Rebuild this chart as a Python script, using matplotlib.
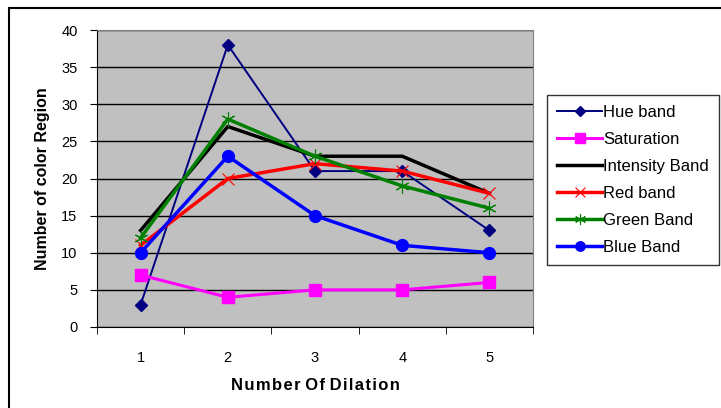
import matplotlib.pyplot as plt
from matplotlib.patches import Rectangle

dilation = [1, 2, 3, 4, 5]
hue = [3, 38, 21, 21, 13]
saturation = [7, 4, 5, 5, 6]
intensity = [13, 27, 23, 23, 18]
red = [11, 20, 22, 21, 18]
green = [12, 28, 23, 19, 16]
blue = [10, 23, 15, 11, 10]

plt.rcParams['font.family'] = ['Liberation Sans', 'DejaVu Sans']

fig = plt.figure(figsize=(7.21, 4.08), dpi=100)
ax = fig.add_axes([97 / 721, 81 / 408, 436 / 721, 297 / 408])
ax.set_facecolor('#C0C0C0')

# outer frame of the chart (runs off right and bottom)
fig.patches.append(Rectangle((9 / 721, -0.1), 1.0, (400 / 408) + 0.1, transform=fig.transFigure,
                             fill=False, edgecolor='black', linewidth=1.5))

ax.plot(dilation, hue, color='#000080', lw=1.4, marker='D', ms=6.5, label='Hue band', zorder=3)
ax.plot(dilation, saturation, color='#FF00FF', lw=2.2, marker='s', ms=9, label='Saturation', zorder=3)
ax.plot(dilation, intensity, color='black', lw=2.5, label='Intensity Band', zorder=3)
ax.plot(dilation, red, color='#FF0000', lw=2.5, marker='x', ms=9, mew=0.8, label='Red band', zorder=3)
ax.plot(dilation, green, color='#008000', lw=2.5, marker=(6, 2, 0), ms=10, mew=0.8,
        label='Green Band', zorder=3)
ax.plot(dilation, blue, color='#0000FF', lw=2.5, marker='o', ms=8.5, label='Blue Band', zorder=3)

ax.set_xlim(0.5, 5.5)
ax.set_ylim(0, 40)
ax.set_yticks(range(0, 41, 5))
ax.yaxis.grid(True, color='black', lw=1)
ax.set_axisbelow(True)
ax.tick_params(axis='y', length=5, direction='out', labelsize=10.5, pad=9)
ax.set_xticks(dilation)
ax.set_xticks([0.5, 1.5, 2.5, 3.5, 4.5, 5.5], minor=True)
ax.tick_params(axis='x', which='major', length=0, labelsize=10.5, pad=17)
ax.tick_params(axis='x', which='minor', length=5, direction='out')

for s in ['top', 'right']:
    ax.spines[s].set_color('#808080')
for s in ['left', 'bottom']:
    ax.spines[s].set_color('black')

ax.set_xlabel('N u m b e r  O f  D i l a t i o n'.replace(' ', '\u200a').replace('\u200a\u200a', ' '),
              fontsize=12, fontweight='bold', labelpad=10)
ax.set_ylabel('Number of color Region', fontsize=11.5, fontweight='bold', labelpad=8)

leg = ax.legend(loc='upper left', bbox_to_anchor=(547 / 721, 313 / 408), bbox_transform=fig.transFigure,
                frameon=True, fancybox=False, edgecolor='black', fontsize=12,
                handlelength=2.7, handletextpad=0.05, labelspacing=0.72, borderpad=0.6,
                borderaxespad=0, markerscale=0.8)
leg.get_frame().set_linewidth(1)

fig.savefig('out.png', dpi=100)
